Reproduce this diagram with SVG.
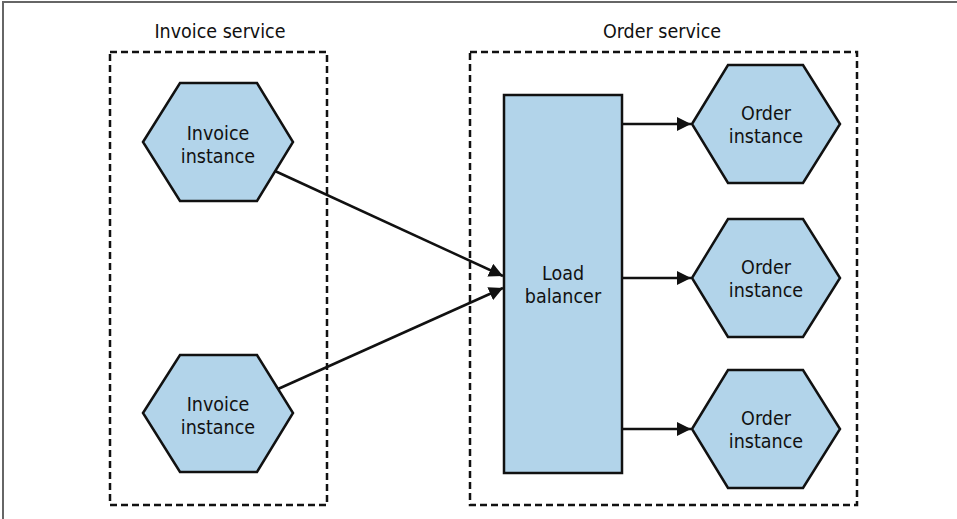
<svg xmlns="http://www.w3.org/2000/svg" width="957" height="519" viewBox="0 0 957 519">
<style>
.t{font-family:"DejaVu Sans",sans-serif;font-stretch:condensed;font-size:19.5px;fill:#111;text-anchor:middle}
.box{fill:none;stroke:#111;stroke-width:2.5;stroke-dasharray:7 4}
.n{fill:#b2d4ea;stroke:#111;stroke-width:2.5;stroke-linejoin:miter}
.c{fill:none;stroke:#111;stroke-width:2.5}
</style>
<defs>
<marker id="ah" viewBox="0 0 10 10" refX="10" refY="5" markerWidth="5.6" markerHeight="5.6" markerUnits="strokeWidth" orient="auto">
<path d="M0,0 L10,5 L0,10 z" fill="#111"/>
</marker>
</defs>
<rect width="957" height="519" fill="#fff"/>
<polyline points="3,519 3,2 957,2" fill="none" stroke="#666" stroke-width="2"/>
<g id="invoice-service">
<rect class="box" x="110" y="52" width="217" height="453"/>
<text class="t" x="220" y="38">Invoice service</text>
</g>
<g id="order-service">
<rect class="box" x="470" y="52" width="387" height="453"/>
<text class="t" x="662" y="38">Order service</text>
</g>
<g id="invoice1">
<polygon class="n" points="143,142 180,83 257,83 293,142 257,201 180,201"/>
<text class="t" x="218" y="140">Invoice</text>
<text class="t" x="218" y="163">instance</text>
</g>
<g id="invoice2">
<polygon class="n" points="143,413 180,355 257,355 293,413 257,472 180,472"/>
<text class="t" x="218" y="411">Invoice</text>
<text class="t" x="218" y="434">instance</text>
</g>
<g id="load-balancer">
<rect class="n" x="504" y="95" width="118" height="378"/>
<text class="t" x="563" y="280">Load</text>
<text class="t" x="563" y="303">balancer</text>
</g>
<g id="order1">
<polygon class="n" points="692,124 728,65 803,65 840,124 803,183 728,183"/>
<text class="t" x="766" y="120">Order</text>
<text class="t" x="766" y="143">instance</text>
</g>
<g id="order2">
<polygon class="n" points="692,278 728,219 803,219 840,278 803,337 728,337"/>
<text class="t" x="766" y="274">Order</text>
<text class="t" x="766" y="297">instance</text>
</g>
<g id="order3">
<polygon class="n" points="692,429 728,370 803,370 840,429 803,488 728,488"/>
<text class="t" x="766" y="425">Order</text>
<text class="t" x="766" y="448">instance</text>
</g>
<g id="connectors">
<line class="c" x1="275" y1="171" x2="503" y2="276" marker-end="url(#ah)"/>
<line class="c" x1="278" y1="389" x2="503" y2="288" marker-end="url(#ah)"/>
<line class="c" x1="622" y1="124" x2="691" y2="124" marker-end="url(#ah)"/>
<line class="c" x1="622" y1="278" x2="691" y2="278" marker-end="url(#ah)"/>
<line class="c" x1="622" y1="429" x2="691" y2="429" marker-end="url(#ah)"/>
</g>
</svg>
